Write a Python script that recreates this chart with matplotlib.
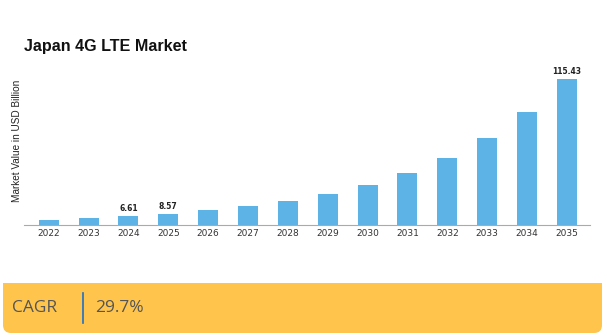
import matplotlib.pyplot as plt
from matplotlib.patches import FancyBboxPatch, Rectangle

years = ['2022', '2023', '2024', '2025', '2026', '2027', '2028',
         '2029', '2030', '2031', '2032', '2033', '2034', '2035']
values = [3.95, 5.1, 6.61, 8.57, 11.1, 14.4, 18.8,
          24.1, 31.3, 40.5, 52.8, 68.5, 89.0, 115.43]
labelled = ['2024', '2025', '2035']
cagr = '29.7%'

W, H = 607, 336
fig = plt.figure(figsize=(W / 100, H / 100), dpi=100)

# bar chart area (pixel box converted to figure fractions)
x0, x1, y_top, y_base = 24, 590, 66, 224.5
ax = fig.add_axes([x0 / W, 1 - y_base / H, (x1 - x0) / W, (y_base - y_top) / H])
xs = list(range(len(years)))
ax.bar(xs, values, width=0.5, color='#5db3e6')
ax.set_xlim(-0.62, len(years) - 1 + 0.58)
ax.set_ylim(0, 125.5)
for x, y, v in zip(xs, years, values):
    if y in labelled:
        ax.text(x, v + 2.5, f'{v:.2f}', ha='center', va='bottom',
                fontsize=5.5, fontweight='bold', color='#222222')
ax.set_xticks(xs)
ax.set_xticklabels(years, fontsize=6.5, color='#333333')
ax.tick_params(axis='x', length=0, pad=3)
ax.set_yticks([])
for s in ['top', 'right', 'left']:
    ax.spines[s].set_visible(False)
ax.spines['bottom'].set_color('#aaaaaa')
ax.spines['bottom'].set_linewidth(0.8)

fig.text(24 / W, 1 - 47 / H, 'Japan 4G LTE Market', fontsize=11.6,
         fontweight='bold', family='Liberation Sans', color='#111111',
         ha='left', va='center')
fig.text(17 / W, 1 - 141 / H, 'Market Value in USD Billion', fontsize=7.2,
         family='Liberation Sans', color='#222222', rotation=90,
         ha='center', va='center')

# CAGR band along the bottom: square top, rounded bottom corners
band = fig.add_axes([0, 0, 1, 1], zorder=-1)
band.set_xlim(0, W)
band.set_ylim(H, 0)
band.axis('off')
band.add_patch(FancyBboxPatch((3, 283), 599, 50, boxstyle='round,pad=0,rounding_size=8',
                              facecolor='#ffc44c', edgecolor='none'))
band.add_patch(Rectangle((3, 283), 599, 20, facecolor='#ffc44c', edgecolor='none'))
band.plot([83, 83], [293, 322.5], color='#1f6fc8', lw=1.2)
band.text(12, 308, 'CAGR', fontsize=12.5, family='Open Sans', color='#555555',
          ha='left', va='center')
band.text(95, 308, cagr, fontsize=12.5, family='Open Sans', color='#555555',
          ha='left', va='center')

fig.savefig('out.png', dpi=100)
